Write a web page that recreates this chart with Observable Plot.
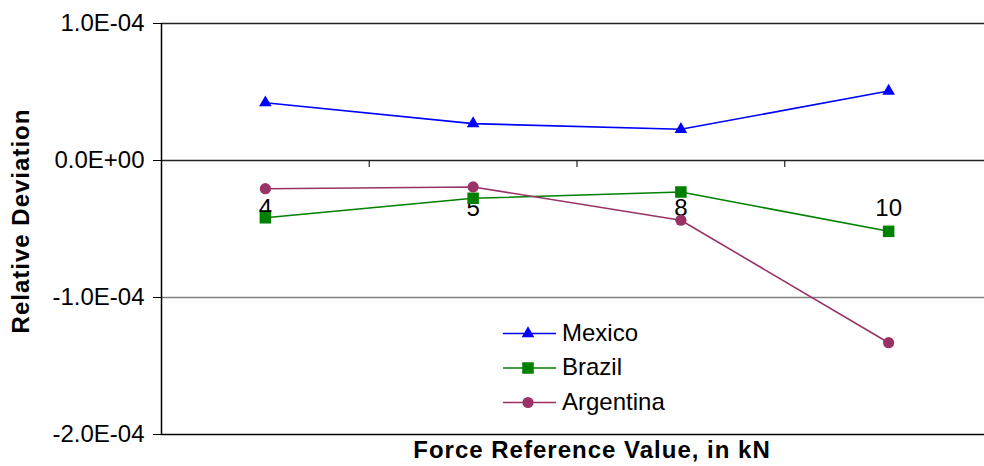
<!DOCTYPE html>
<html>
<head>
<meta charset="utf-8">
<script src="https://cdn.jsdelivr.net/npm/d3@7"></script>
<script src="https://cdn.jsdelivr.net/npm/@observablehq/plot@0.6"></script>
<style>
  html, body { margin: 0; padding: 0; background: #fff; }
  #wrap { position: relative; width: 984px; height: 466px; overflow: hidden; font-family: "Liberation Sans", Arial, sans-serif; }
  #legend { position: absolute; left: 0; top: 0; }
</style>
</head>
<body>
<div id="wrap"></div>
<script>
// ---- data ----
const categories = ["4", "5", "8", "10"];
const mexico    = [0.422e-4, 0.269e-4, 0.228e-4, 0.507e-4];
const brazil    = [-0.418e-4, -0.276e-4, -0.230e-4, -0.517e-4];
const argentina = [-0.206e-4, -0.193e-4, -0.436e-4, -1.330e-4];
const yTicks = [1e-4, 0, -1e-4, -2e-4];
const seriesNames = ["Mexico", "Brazil", "Argentina"];
const seriesColors = ["#0000FF", "#008000", "#993366"];
const seriesSymbols = ["triangle", "square", "circle"];
const seriesR = [4.7, 6.5, 5.6];
const xTitle = "Force Reference Value, in kN";
const yTitle = "Relative Deviation";

function fmtE(d) {
  const [m, e] = d.toExponential(1).split("e");
  const sign = e[0] === "-" ? "-" : "+";
  const ex = String(Math.abs(+e)).padStart(2, "0");
  return m + "E" + sign + ex;
}

const seriesValues = [mexico, brazil, argentina];
const rows = seriesValues.map((vals, s) => vals.map((v, i) => ({i, v, s})));
const boundaries = categories.slice(1).map((_, k) => k + 0.5);
const font = '"Liberation Sans", Arial, sans-serif';

const marks = [
  Plot.ruleY([yTicks[0]], {stroke: "#222", strokeWidth: 1.3}),
  Plot.ruleY([yTicks[2]], {stroke: "#808080", strokeWidth: 1.5}),
  Plot.ruleY([yTicks[3]], {stroke: "#000", strokeWidth: 1.5}),
  Plot.ruleY([0], {stroke: "#222", strokeWidth: 1.5}),
  Plot.ruleX([-0.5], {y1: yTicks[3], y2: yTicks[0], stroke: "#000", strokeWidth: 1.5}),
  Plot.ruleX(boundaries, {y1: 0, y2: 0, insetBottom: -7, stroke: "#222", strokeWidth: 1.2}),
  Plot.axisY({ticks: yTicks, tickFormat: fmtE, tickSize: 8, tickPadding: 9, fontSize: 24, label: null, stroke: "#000"}),
  Plot.text(categories, {x: (d, i) => i, y: 0, dy: 48, text: d => d, fontSize: 24, fill: "#000"}),
  Plot.text([yTitle], {frameAnchor: "left", textAnchor: "middle", lineAnchor: "middle", rotate: -90, dx: -140, dy: -8, text: d => d, fontSize: 24, fontWeight: "bold", fill: "#000"}),
  Plot.text([xTitle], {frameAnchor: "bottom", lineAnchor: "middle", dx: 19, dy: 15.5, text: d => d, fontSize: 24, fontWeight: "bold", fill: "#000"})
];
rows.forEach((r, s) => {
  marks.push(Plot.line(r, {x: "i", y: "v", stroke: seriesColors[s], strokeWidth: 1.6}));
  marks.push(Plot.dot(r, {x: "i", y: "v", symbol: seriesSymbols[s], r: seriesR[s], fill: seriesColors[s], stroke: "none"}));
});

const chart = Plot.plot({
  width: 984,
  height: 466,
  marginLeft: 161,
  marginRight: 0,
  marginTop: 23,
  marginBottom: 32,
  style: {fontFamily: font, fontSize: "24px", background: "#fff", overflow: "visible"},
  x: {type: "linear", domain: [-0.5, categories.length - 0.5], range: [161, 992], axis: null},
  y: {domain: [yTicks[3], yTicks[0]], axis: null},
  marks
});
document.getElementById("wrap").appendChild(chart);

// letter spacing for bold titles
d3.select(chart).selectAll("text").each(function() {
  const t = this.textContent;
  if (t === xTitle || t === yTitle) d3.select(this).attr("letter-spacing", "1px");
});

// ---- legend (overlay) ----
const lg = d3.select("#wrap").append("svg").attr("id", "legend")
  .attr("width", 984).attr("height", 466)
  .style("font-family", font);
const rowY = [333.5, 368, 402.5];
seriesNames.forEach((name, s) => {
  const g = lg.append("g").attr("transform", `translate(0,${rowY[s]})`);
  g.append("line").attr("x1", 503).attr("x2", 556).attr("y1", 0).attr("y2", 0)
    .attr("stroke", seriesColors[s]).attr("stroke-width", 1.6);
  const sym = {triangle: d3.symbolTriangle, square: d3.symbolSquare, circle: d3.symbolCircle}[seriesSymbols[s]];
  g.append("path").attr("transform", "translate(528,0)")
    .attr("d", d3.symbol(sym, Math.PI * seriesR[s] * seriesR[s])())
    .attr("fill", seriesColors[s]);
  g.append("text").attr("x", 562).attr("y", 7).attr("font-size", 24).attr("fill", "#000").text(name);
});
</script>
</body>
</html>
